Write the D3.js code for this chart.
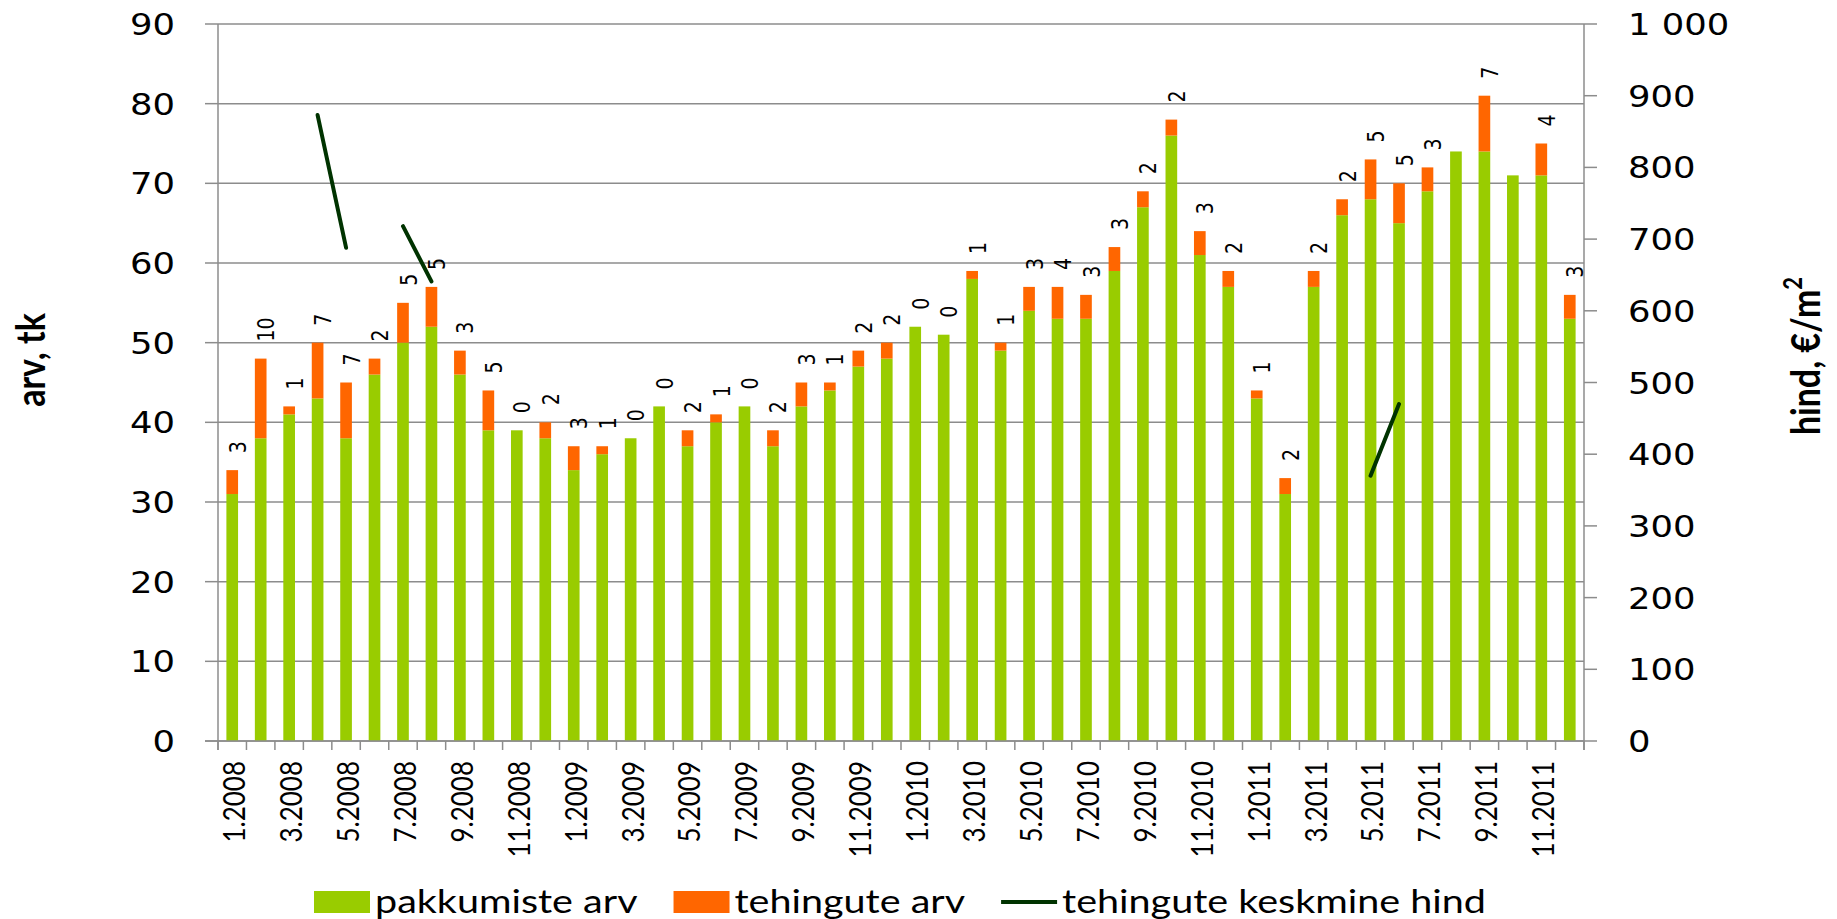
<!DOCTYPE html>
<html>
<head>
<meta charset="utf-8">
<script src="https://cdn.jsdelivr.net/npm/d3@7"></script>
<style>
  html, body { margin: 0; padding: 0; background: #ffffff; }
  svg { display: block; }
</style>
</head>
<body>
<svg id="chart" width="1837" height="919"></svg>
<script>
// Monthly categories
const months = [
  "1.2008","2.2008","3.2008","4.2008","5.2008","6.2008","7.2008","8.2008","9.2008","10.2008","11.2008","12.2008",
  "1.2009","2.2009","3.2009","4.2009","5.2009","6.2009","7.2009","8.2009","9.2009","10.2009","11.2009","12.2009",
  "1.2010","2.2010","3.2010","4.2010","5.2010","6.2010","7.2010","8.2010","9.2010","10.2010","11.2010","12.2010",
  "1.2011","2.2011","3.2011","4.2011","5.2011","6.2011","7.2011","8.2011","9.2011","10.2011","11.2011","12.2011"
];
// Category labels shown on the x axis
const monthLabels = [
  "1.2008","3.2008","5.2008","7.2008","9.2008","11.2008",
  "1.2009","3.2009","5.2009","7.2009","9.2009","11.2009",
  "1.2010","3.2010","5.2010","7.2010","9.2010","11.2010",
  "1.2011","3.2011","5.2011","7.2011","9.2011","11.2011"
];
// pakkumiste arv (offers)
const pakkumised = [
  31,38,41,43,38,46,50,52,46,39,39,38,
  34,36,38,42,37,40,42,37,42,44,47,48,
  52,51,58,49,54,53,53,59,67,76,61,57,
  43,31,57,66,68,65,69,74,74,71,71,53
];
// tehingute arv (transactions)
const tehingud = [
  3,10,1,7,7,2,5,5,3,5,0,2,
  3,1,0,0,2,1,0,2,3,1,2,2,
  0,0,1,1,3,4,3,3,2,2,3,2,
  1,2,2,2,5,5,3,null,7,null,4,3
];
// tehingute keskmine hind (average price, €/m²)
const hind = [
  null,null,null,873,688,null,718,641,null,null,null,null,
  null,null,null,null,null,null,null,null,null,null,null,null,
  null,null,null,null,null,null,null,null,null,null,null,null,
  null,null,null,null,370,470,null,null,null,null,null,null
];
const leftTicks = [0,10,20,30,40,50,60,70,80,90];
const rightTicks = [0,100,200,300,400,500,600,700,800,900,1000];
const seriesNames = ["pakkumiste arv","tehingute arv","tehingute keskmine hind"];

const COLORS = { offers: "#99CC00", deals: "#FF6600", price: "#003300", grid: "#8C8C8C", text: "#000000" };
const SX = 1.18;   // horizontal text stretch
const plot = { left: 218, right: 1584, top: 24, bottom: 741 };

const svg = d3.select("#chart");

const x = d3.scaleBand().domain(months).range([plot.left, plot.right]).paddingInner(0.59).paddingOuter(0.295);
const yL = d3.scaleLinear().domain([0, 90]).range([plot.bottom, plot.top]);
const yR = d3.scaleLinear().domain([0, 1000]).range([plot.bottom, plot.top]);
const cx = m => x(m) + x.bandwidth() / 2;

// text placed with horizontal stretch (and optional rotation)
function stext(parent, px, py, str, o) {
  const g = parent.append("g")
    .attr("transform", `translate(${px},${py}) scale(${SX},1)` + (o.rotate ? " rotate(-90)" : ""));
  const t = g.append("text")
    .attr("font-family", o.family)
    .attr("font-size", o.size)
    .attr("font-weight", o.weight || "normal")
    .attr("text-anchor", o.anchor || "start")
    .attr("dominant-baseline", o.baseline || "alphabetic")
    .attr("fill", COLORS.text)
    .text(str);
  return t;
}

// horizontal gridlines
svg.append("g").selectAll("line").data(leftTicks).join("line")
  .attr("x1", plot.left).attr("x2", plot.right)
  .attr("y1", d => yL(d)).attr("y2", d => yL(d))
  .attr("stroke", COLORS.grid).attr("stroke-width", 1.5);

// stacked bars
const stackData = months.map((m, i) => ({ m, offers: pakkumised[i], deals: tehingud[i] == null ? 0 : tehingud[i] }));
const stacked = d3.stack().keys(["offers", "deals"])(stackData);
const barColors = [COLORS.offers, COLORS.deals];
svg.append("g").selectAll("g").data(stacked).join("g")
  .attr("fill", (d, i) => barColors[i])
  .selectAll("rect").data(d => d).join("rect")
  .attr("x", d => x(d.data.m))
  .attr("width", x.bandwidth())
  .attr("y", d => yL(d[1]))
  .attr("height", d => yL(d[0]) - yL(d[1]));

// price line (right axis)
const line = d3.line()
  .defined(d => d.v != null)
  .x(d => cx(d.m))
  .y(d => yR(d.v));
svg.append("path")
  .datum(months.map((m, i) => ({ m, v: hind[i] })))
  .attr("d", line)
  .attr("fill", "none")
  .attr("stroke", COLORS.price)
  .attr("stroke-width", 4)
  .attr("stroke-linecap", "round");

// left axis
const axL = svg.append("g");
axL.append("line").attr("x1", plot.left).attr("x2", plot.left).attr("y1", plot.top).attr("y2", plot.bottom + 9)
  .attr("stroke", COLORS.grid).attr("stroke-width", 1.5);
axL.selectAll("line.tk").data(leftTicks).join("line").attr("class", "tk")
  .attr("x1", plot.left - 13).attr("x2", plot.left)
  .attr("y1", d => yL(d)).attr("y2", d => yL(d))
  .attr("stroke", COLORS.grid).attr("stroke-width", 1.5);
leftTicks.forEach(t => stext(svg, 175, yL(t) + 1, String(t), { family: "DejaVu Sans", size: 30, anchor: "end", baseline: "central" }));

// right axis
const axR = svg.append("g");
axR.append("line").attr("x1", plot.right).attr("x2", plot.right).attr("y1", plot.top).attr("y2", plot.bottom + 9)
  .attr("stroke", COLORS.grid).attr("stroke-width", 1.5);
axR.selectAll("line.tk").data(rightTicks).join("line").attr("class", "tk")
  .attr("x1", plot.right).attr("x2", plot.right + 13)
  .attr("y1", d => yR(d)).attr("y2", d => yR(d))
  .attr("stroke", COLORS.grid).attr("stroke-width", 1.5);
const fmtR = v => d3.format(",")(v).replace(/,/g, " ");
rightTicks.forEach(t => stext(svg, 1628, yR(t) + 1, fmtR(t), { family: "DejaVu Sans", size: 30, anchor: "start", baseline: "central" }));

// bottom axis: baseline and category boundary ticks
svg.append("line").attr("x1", plot.left - 13).attr("x2", plot.right).attr("y1", plot.bottom).attr("y2", plot.bottom)
  .attr("stroke", COLORS.grid).attr("stroke-width", 1.5);
const bounds = months.map(m => x(m) - x.step() * x.paddingInner() / 2).concat([plot.right]);
svg.append("g").selectAll("line").data(bounds).join("line")
  .attr("x1", d => d).attr("x2", d => d)
  .attr("y1", plot.bottom).attr("y2", plot.bottom + 9)
  .attr("stroke", COLORS.grid).attr("stroke-width", 1.5);
monthLabels.forEach(m => stext(svg, cx(m) + 1, 761, m, { family: "Lato", size: 26, anchor: "end", baseline: "central", rotate: true }));

// transaction count labels above bars
months.forEach((m, i) => {
  if (tehingud[i] == null) return;
  const top = yL(pakkumised[i] + tehingud[i]);
  stext(svg, cx(m) + 6, top - 17, String(tehingud[i]), { family: "DejaVu Sans", size: 19, anchor: "start", baseline: "central", rotate: true });
});

// axis titles
stext(svg, 29, 360, "arv, tk", { family: "Lato", size: 34, weight: "bold", anchor: "middle", baseline: "central", rotate: true });
const rt = stext(svg, 1804, 356, "hind, €/m", { family: "Lato", size: 34, weight: "bold", anchor: "middle", baseline: "central", rotate: true });
rt.append("tspan").attr("font-size", 22).attr("dy", -11).text("2");

// legend
const legend = svg.append("g");
let lx = 314;
const ly = 902;
seriesNames.forEach((name, i) => {
  if (i < 2) {
    legend.append("rect").attr("x", lx).attr("y", ly - 11).attr("width", 56).attr("height", 22).attr("fill", barColors[i]);
  } else {
    legend.append("line").attr("x1", lx).attr("x2", lx + 56).attr("y1", ly).attr("y2", ly)
      .attr("stroke", COLORS.price).attr("stroke-width", 4);
  }
  const t = stext(legend, lx + 61, ly + 11, name, { family: "Lato", size: 33.5 });
  const w = t.node().getComputedTextLength() * SX;
  lx = lx + 61 + w + 36;
});
</script>
</body>
</html>
